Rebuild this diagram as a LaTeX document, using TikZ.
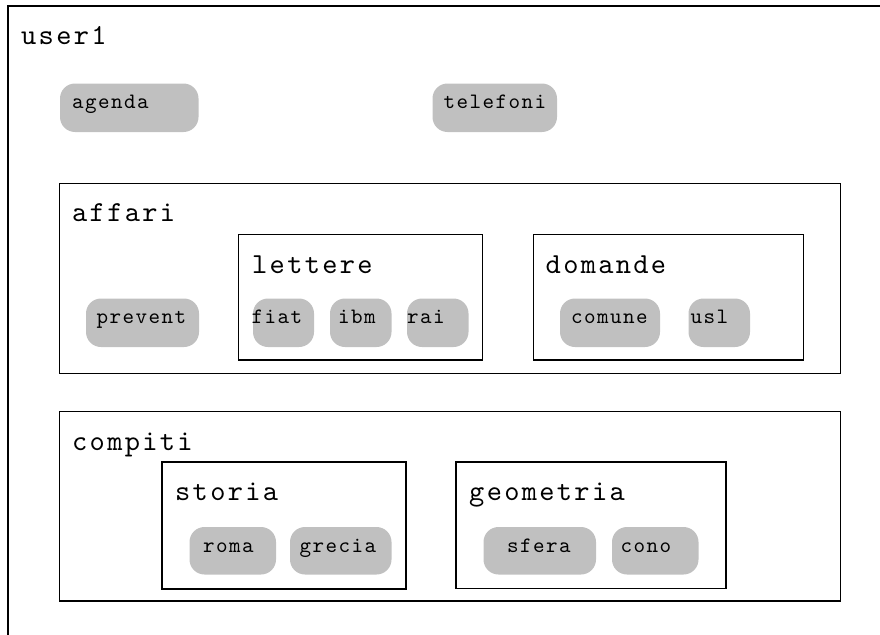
\documentclass[tikz,border=0pt]{standalone}
\usepackage{fontspec}
\newfontfamily\bigtt{lmmono10-regular.otf}[LetterSpace=8]
\newfontfamily\smalltt{lmmono10-regular.otf}[LetterSpace=6.5]
\definecolor{pillgray}{HTML}{C0C0C0}
\tikzset{
  frame/.style={draw=black, line width=1.9pt},
  pill/.style={fill=pillgray, rounded corners=15pt},
  boxlabel/.style={anchor=base west, inner sep=0pt, font=\bigtt\fontsize{29}{29}\selectfont},
  pilllabel/.style={anchor=base west, inner sep=0pt, font=\smalltt\fontsize{22}{22}\selectfont},
}
% \pillbox{name}{x1}{y1}{x2}{y2}{text x}{text}
\newcommand\pillbox[7]{%
  \fill[pill] (#2,#3) rectangle (#4,#5);
  \node[pilllabel] (#1) at (#6,#3+25) {#7};
}
\begin{document}
\begin{tikzpicture}[x=1pt, y=-1pt]
  \useasboundingbox (0,0) rectangle (880,634);
  \clip (0,0) rectangle (880,634);

  % outer folder, running past the page edges
  \draw[frame] (8,6) rectangle (900,660);
  \node[boxlabel] (user1) at (21,45) {user1};
  \pillbox{agenda}{60}{83.5}{198.5}{132}{72}{agenda}
  \pillbox{telefoni}{432.5}{83.5}{557}{132}{443.5}{telefoni}

  % affari
  \draw[frame] (59.5,183.5) rectangle (840.5,373.5);
  \node[boxlabel] (affari) at (72,221.5) {affari};
  \pillbox{prevent}{86}{298.5}{199}{347}{96.5}{prevent}

  \draw[frame] (238.5,234.5) rectangle (482.5,360);
  \node[boxlabel] (lettere) at (252,273.5) {lettere};
  \pillbox{fiat}{253}{298.5}{314}{347}{251.5}{fiat}
  \pillbox{ibm}{330}{298.5}{391.5}{347}{338}{ibm}
  \pillbox{rai}{407}{298.5}{468.5}{347}{407}{rai}

  \draw[frame] (533.5,234.5) rectangle (803.5,360);
  \node[boxlabel] (domande) at (545.5,273.5) {domande};
  \pillbox{comune}{560}{298.5}{660}{347}{571}{comune}
  \pillbox{usl}{688.5}{298.5}{750}{347}{690.5}{usl}

  % compiti
  \draw[frame] (59.5,411.5) rectangle (840.5,601);
  \node[boxlabel] (compiti) at (72,450) {compiti};

  \draw[frame] (162,462) rectangle (406,589);
  \node[boxlabel] (storia) at (175,500.5) {storia};
  \pillbox{roma}{189.5}{527}{276}{574.5}{203}{roma}
  \pillbox{grecia}{290}{527}{391.5}{574.5}{299.5}{grecia}

  \draw[frame] (456,462) rectangle (726,588.5);
  \node[boxlabel] (geometria) at (469,500.5) {geometria};
  \pillbox{sfera}{483.5}{527}{596}{574.5}{507}{sfera}
  \pillbox{cono}{612}{527}{698.5}{574.5}{620.5}{cono}
\end{tikzpicture}
\end{document}
